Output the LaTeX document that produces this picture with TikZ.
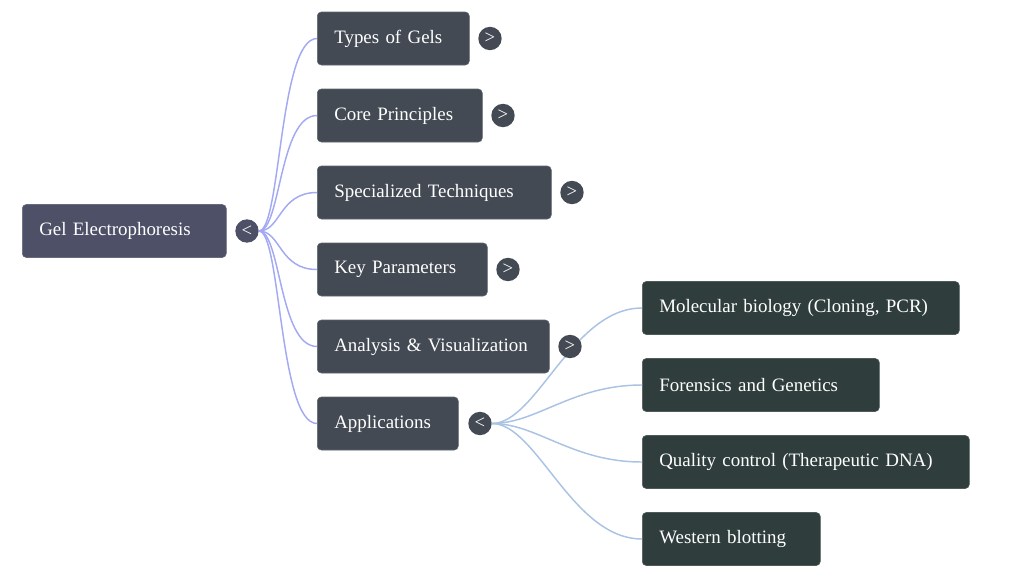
\documentclass[tikz,border=0pt]{standalone}
\usepackage{fontspec}
\setmainfont[WordSpace=0.85]{Liberation Serif}
\definecolor{rootc}{HTML}{4D5066}
\definecolor{lonec}{HTML}{434A54}
\definecolor{ltwoc}{HTML}{2F3E3C}
\definecolor{edgeA}{HTML}{A3A9F2}
\definecolor{edgeB}{HTML}{A9C3E3}
\begin{document}
\begin{tikzpicture}[x=0.75pt,y=-0.75pt,
  box/.style={rounded corners=3pt, draw=#1!85!white, line width=0.4pt, fill=#1, text=white,
     font=\fontsize{14.2}{16}\selectfont, align=left, inner xsep=12.75pt, inner ysep=0pt,
     minimum height=39.75pt, anchor=west},
  tog/.style={circle, fill=#1, text=white, minimum size=17.5pt, inner sep=0pt,
     font=\fontsize{14}{14}\selectfont},
  edA/.style={draw=edgeA, line width=1.1pt},
  edB/.style={draw=edgeB, line width=1.1pt}]
\useasboundingbox (0,0) rectangle (1024,578);
% root
\node[box=rootc, text width=127.5pt] (root) at (22,231) {Gel Electrophoresis};
\node[tog=rootc] (rt) at (247,231) {<};
% level 1
\node[box=lonec, text width=88.5pt] (types) at (317,38.5) {Types of Gels};
\node[box=lonec, text width=98.25pt] (core) at (317,115.5) {Core Principles};
\node[box=lonec, text width=150pt] (spec) at (317,192.5) {Specialized Techniques};
\node[box=lonec, text width=102pt] (key) at (317,269.5) {Key Parameters};
\node[box=lonec, text width=148.5pt] (ana) at (317,346.5) {Analysis \& Visualization};
\node[box=lonec, text width=80.25pt] (app) at (317,423.5) {Applications};
\node[tog=lonec] (ttypes) at (490,38.5) {>};
\node[tog=lonec] (tcore) at (503,115.5) {>};
\node[tog=lonec] (tspec) at (572,192.5) {>};
\node[tog=lonec] (tkey) at (508,269.5) {>};
% level 2
\node[box=ltwoc, text width=212.25pt] (mol) at (642,308) {Molecular biology (Cloning, PCR)};
\node[box=ltwoc, text width=152.25pt] (for) at (642,385) {Forensics and Genetics};
\node[box=ltwoc, text width=219.75pt] (qc) at (642,462) {Quality control (Therapeutic DNA)};
\node[box=ltwoc, text width=108pt] (wb) at (642,539) {Western blotting};
% edges root
\foreach \n in {types,core,spec,key,ana,app}{
  \path[edA] (rt.east) .. controls +(22,0) and +(-38,0) .. (\n.west);
}
% edges applications
\node[tog=lonec] (tapp) at (480,423.5) {<};
\foreach \n in {mol,for,qc,wb}{
  \path[edB] (tapp.east) .. controls +(45,0) and +(-70,0) .. (\n.west);
}
\node[tog=lonec] (tana) at (570,346.5) {>};
\end{tikzpicture}
\end{document}
